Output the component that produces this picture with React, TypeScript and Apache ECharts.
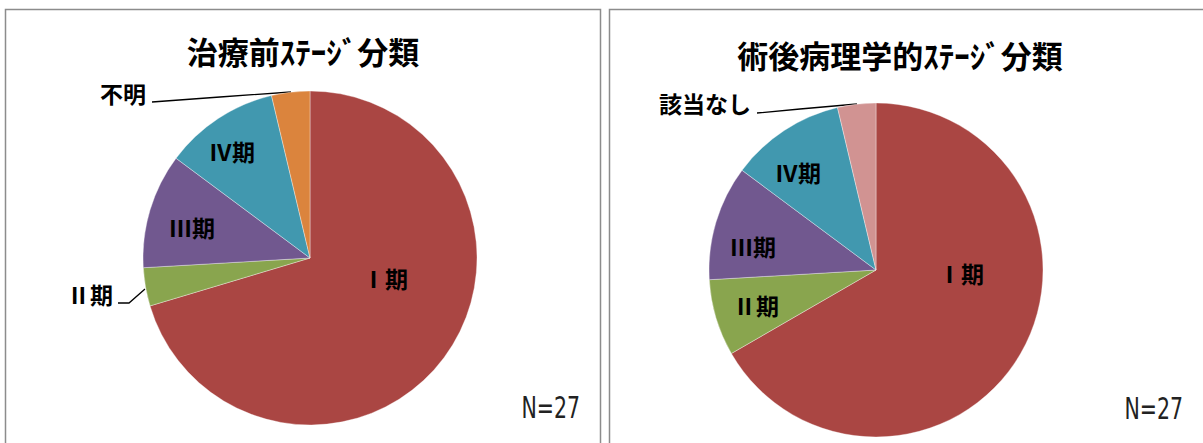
import React, { useEffect, useRef } from "react";
import * as echarts from "echarts";

const preTitle = "治療前ｽﾃｰｼﾞ分類";
const postTitle = "術後病理学的ｽﾃｰｼﾞ分類";
const preCategories = ["Ⅰ期", "Ⅱ期", "Ⅲ期", "Ⅳ期", "不明"];
const preValues = [19, 1, 3, 3, 1];
const postCategories = ["Ⅰ期", "Ⅱ期", "Ⅲ期", "Ⅳ期", "該当なし"];
const postValues = [18, 2, 3, 3, 1];
const totalLabel = "N=27";

const preColors = ["#AA4643", "#89A54E", "#71588F", "#4198AF", "#DB843D"];
const postColors = ["#AA4643", "#89A54E", "#71588F", "#4198AF", "#D19392"];

// label placement (pixel layout, not data)
const preLabelPos: any[] = [
  { x: 385, y: 278 },
  { x: 113, y: 294, align: "right", line: [[145, 289], [129, 303], [118, 303]] },
  { x: 192, y: 227 },
  { x: 232, y: 151 },
  { x: 146, y: 93, align: "right", line: [[291, 92], [220, 97], [152, 102]] },
];
const postLabelPos: any[] = [
  { x: 961, y: 273 },
  { x: 756, y: 305 },
  { x: 753, y: 246 },
  { x: 798, y: 172 },
  { x: 751, y: 103, align: "right", line: [[857, 104], [800, 109], [757, 113]] },
];

const FONT = "'Noto Sans CJK JP', 'Noto Sans', sans-serif";

function makeSeries(names: string[], values: number[], colors: string[], center: number[], pos: any[]) {
  return {
    type: "pie",
    center,
    radius: 167,
    startAngle: 90,
    clockwise: true,
    avoidLabelOverlap: false,
    itemStyle: { borderColor: "rgba(255,255,255,0.6)", borderWidth: 0.6 },
    label: {
      show: true,
      position: "inside",
      color: "#000",
      fontWeight: "bold",
      fontSize: 23,
      fontFamily: FONT,
      formatter: "{b}",
    },
    labelLine: { show: false },
    emphasis: { disabled: true },
    data: names.map((n, i) => {
      const p = pos[i];
      const item: any = { name: n, value: values[i], itemStyle: { color: colors[i] } };
      if (p.line) {
        item.label = { position: "outside" };
        item.labelLine = { show: true, lineStyle: { color: "#000", width: 1.3 } };
      }
      return item;
    }),
    labelLayout: (params: any) => {
      const p = pos[params.dataIndex];
      const r: any = { x: p.x, y: p.y, align: p.align || "center", verticalAlign: "middle" };
      if (p.line) r.labelLinePoints = p.line;
      return r;
    },
  };
}

const nStyle = {
  text: totalLabel,
  fontSize: 30,
  fontFamily: "'DejaVu Sans Condensed', 'DejaVu Sans', sans-serif",
  fill: "#222",
  align: "right",
  verticalAlign: "bottom",
};

export default function App() {
  const ref = useRef<HTMLDivElement>(null);
  useEffect(() => {
    const chart = echarts.init(ref.current!, null, { renderer: "svg" });
    chart.setOption({
      animation: false,
      backgroundColor: "#fff",
      title: [
        {
          text: preTitle,
          left: 298,
          top: 30,
          textAlign: "center",
          textStyle: { fontSize: 31, fontWeight: "bold", color: "#000", fontFamily: FONT },
        },
        {
          text: postTitle,
          left: 895,
          top: 34,
          textAlign: "center",
          textStyle: { fontSize: 31, fontWeight: "bold", color: "#000", fontFamily: FONT },
        },
      ],
      graphic: [
        {
          type: "rect",
          shape: { x: 5.5, y: 9.5, width: 595, height: 450 },
          style: { fill: "none", stroke: "#8c8c8c", lineWidth: 1.5 },
          z: -1,
        },
        {
          type: "rect",
          shape: { x: 609.5, y: 9.5, width: 620, height: 450 },
          style: { fill: "none", stroke: "#8c8c8c", lineWidth: 1.5 },
          z: -1,
        },
        { type: "text", x: 580, y: 422, scaleX: 0.76, style: nStyle },
        { type: "text", x: 1183, y: 423, scaleX: 0.76, style: nStyle },
      ],
      series: [
        makeSeries(preCategories, preValues, preColors, [310, 258], preLabelPos),
        makeSeries(postCategories, postValues, postColors, [876, 270], postLabelPos),
      ],
    });
    return () => chart.dispose();
  }, []);
  return (
    <div
      ref={ref}
      style={{ position: "fixed", left: 0, top: 0, width: 1203, height: 443 }}
    />
  );
}
